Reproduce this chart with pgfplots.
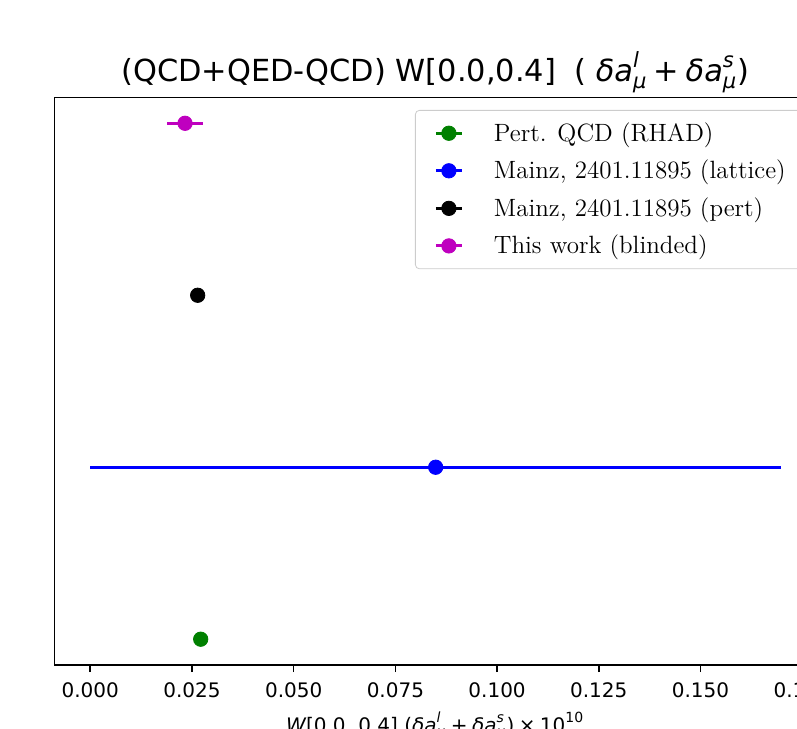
\documentclass[border=0pt]{standalone}
\usepackage{fontspec}
\usepackage{pgfplots}
\pgfplotsset{compat=1.18}
\newfontfamily\djv{DejaVu Sans}
\definecolor{mplg}{rgb}{0,0.5,0}
\definecolor{mplb}{rgb}{0,0,1}
\definecolor{mplm}{rgb}{0.75,0,0.75}
\newcommand{\di}[1]{\mbox{\djv\itshape #1}}
\newcommand{\dr}[1]{\mbox{\djv #1}}
\newcommand{\dis}[1]{\mbox{\djv\itshape\fontsize{7}{8}\selectfont #1}}
\newcommand{\dit}[1]{\mbox{\djv\itshape\fontsize{10.5}{11}\selectfont #1}}
\pgfplotsset{myleg/.style={legend image code/.code={\path[draw=none,fill=none] (0pt,0pt) -- (27pt,0pt);\draw[line width=1.5pt,#1](0pt,0pt)--(13pt,0pt);\fill[#1](6.5pt,0pt) circle (3.6pt);}}}
\begin{document}
\begin{tikzpicture}
\begin{axis}[
  at={(0,0)}, anchor=south west,
  scale only axis, width=380.75pt, height=283.75pt,
  xmin=-0.0088, xmax=0.1784, ymin=-0.15, ymax=3.15,
  ytick=\empty,
  xtick={0,0.025,0.05,0.075,0.1,0.125,0.15,0.175},
  xtick pos=lower,
  tick align=outside, major tick length=3.5pt,
  axis line style={line width=0.8pt},
  every tick/.style={line width=0.8pt,black},
  xticklabel style={font=\djv\fontsize{10}{12}\selectfont, anchor=base, yshift=-12.5pt,
    /pgf/number format/.cd, fixed, fixed zerofill, precision=3, assume math mode=true},
  title={\djv\fontsize{15.2}{17}\selectfont (QCD+QED-QCD) W[0.0,0.4]\hspace{0.6em}( $\di{δa}^{\dit{l}}_{\dit{μ}}\mathbin{\dr{+}}\di{δa}^{\dit{s}}_{\dit{μ}}$)},
  title style={at={(0.5,1)}, anchor=base, yshift=2pt},
  xlabel={\fontsize{10}{12}\selectfont$\di{W}\dr{[0.0, 0.4] (}\di{δa}^{\dis{l}}_{\dis{μ}}\mathbin{\dr{+}}\di{δa}^{\dis{s}}_{\dis{μ}}\dr{)}\mathbin{\dr{×}}\dr{10}^{\mbox{\djv\fontsize{7}{8}\selectfont 10}}$},
  xlabel style={at={(axis description cs:0.5,0)}, anchor=base, yshift=-33.5pt},
  legend style={at={(0.4734,0.978)}, anchor=north west, draw=black!20, rounded corners=2pt,
    fill=white, font=\fontsize{12.5}{15}\selectfont, cells={anchor=west}, row sep=3.9pt, inner xsep=9.5pt, inner ysep=4pt},
]
\addlegendimage{myleg=mplg}
\addlegendentry{Pert.  QCD (RHAD)}
\addlegendimage{myleg=mplb}
\addlegendentry{Mainz, 2401.11895 (lattice)}
\addlegendimage{myleg=black}
\addlegendentry{Mainz, 2401.11895 (pert)}
\addlegendimage{myleg=mplm}
\addlegendentry{This work (blinded)}

\addplot[forget plot, only marks, mark=*, mark size=3.6pt, color=mplg,
  error bars/.cd, x dir=both, x explicit, error mark=none, error bar style={line width=1.5pt}]
  coordinates {(0.02714,0) +- (0.0003,0)};
\addplot[forget plot, only marks, mark=*, mark size=3.6pt, color=mplb,
  error bars/.cd, x dir=both, x explicit, error mark=none, error bar style={line width=1.5pt}]
  coordinates {(0.0849,1) +- (0.085,0)};
\addplot[forget plot, only marks, mark=*, mark size=3.6pt, color=black,
  error bars/.cd, x dir=both, x explicit, error mark=none, error bar style={line width=1.5pt}]
  coordinates {(0.0264,2) +- (0.0003,0)};
\addplot[forget plot, only marks, mark=*, mark size=3.6pt, color=mplm,
  error bars/.cd, x dir=both, x explicit, error mark=none, error bar style={line width=1.5pt}]
  coordinates {(0.02329,3) +- (0.0044,0)};
\end{axis}
\pgfresetboundingbox
\useasboundingbox (-27.25pt,-31.5pt) rectangle (371.25pt,332.5pt);
\end{tikzpicture}
\end{document}
